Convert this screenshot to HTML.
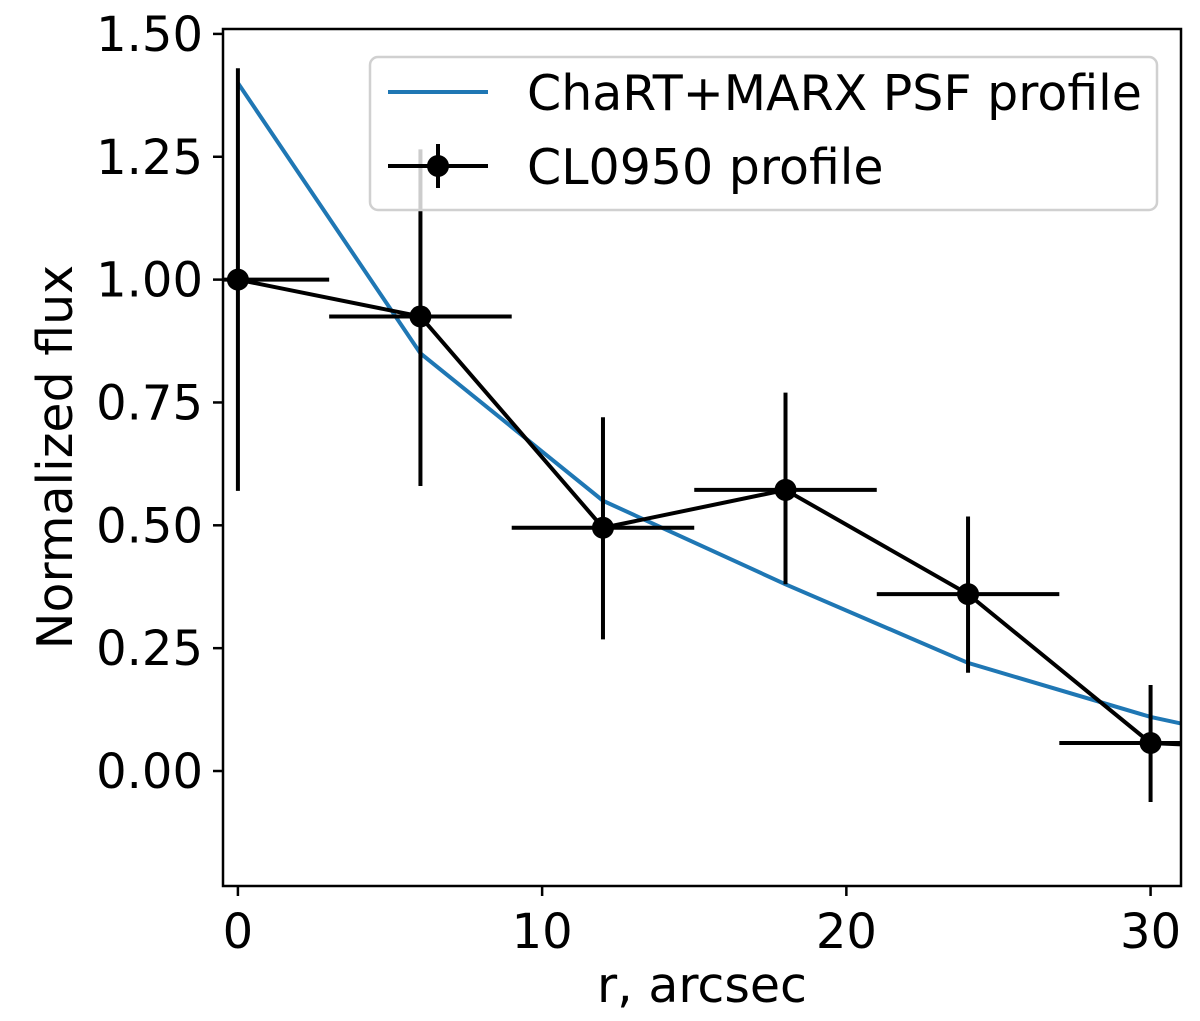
<!DOCTYPE html>
<html><head><meta charset="utf-8"><style>
body{margin:0;background:#fff;}
svg text{font-family:"DejaVu Sans","Liberation Sans",sans-serif;fill:#000;}
</style></head><body>
<svg id="chart" width="1200" height="1016" viewBox="0 0 1200 1016" xmlns="http://www.w3.org/2000/svg">
<defs><clipPath id="plotclip"><rect x="223" y="29" width="958" height="857"/></clipPath></defs>
<g id="plot" clip-path="url(#plotclip)"></g>
<g id="axes"></g>
<g>
<rect x="370" y="57" width="787" height="153" rx="8" fill="#fff" fill-opacity="0.8" stroke="#d0d0d0" stroke-width="2.5"/>
<line x1="388" y1="92" x2="488" y2="92" stroke="#1f77b4" stroke-width="4"/>
<text x="527" y="110" font-size="49">ChaRT+MARX PSF profile</text>
<line x1="388" y1="166" x2="488" y2="166" stroke="#000" stroke-width="4"/>
<line x1="438" y1="144" x2="438" y2="188" stroke="#000" stroke-width="4"/>
<circle cx="438" cy="166" r="11" fill="#000"/>
<text x="527" y="184" font-size="49">CL0950 profile</text>
</g>
<text x="702" y="1002" font-size="49" text-anchor="middle">r, arcsec</text>
<text transform="translate(72,457) rotate(-90)" font-size="49" text-anchor="middle">Normalized flux</text>
</svg>
<script>
const psfR=[0,6,12,18,24,30,36];
const psfFlux=[1.40,0.85,0.55,0.38,0.22,0.11,0.03];
const dataR=[0,6,12,18,24,30,36];
const dataFlux=[1.00,0.925,0.495,0.572,0.36,0.057,0.04];
const dataErrUp=[0.43,0.34,0.225,0.198,0.158,0.118,0.1];
const dataErrDown=[0.43,0.345,0.227,0.192,0.16,0.12,0.1];
const dataXErr=[3,3,3,3,3,3,3];
const xTicks=[0,10,20,30];
const yTicks=[0,0.25,0.5,0.75,1.0,1.25,1.5];
const yTickLabels=["0.00","0.25","0.50","0.75","1.00","1.25","1.50"];
const L=223,R=1181,T=29,B=886;
const xMin=-0.49,xMax=31.0,yMin=-0.234,yMax=1.51;
const X=v=>L+(v-xMin)/(xMax-xMin)*(R-L);
const Y=v=>B-(v-yMin)/(yMax-yMin)*(B-T);
const NS="http://www.w3.org/2000/svg";
function mk(tag,attrs,parent){const e=document.createElementNS(NS,tag);for(const k in attrs)e.setAttribute(k,attrs[k]);parent.appendChild(e);return e;}
const plot=document.getElementById('plot'),axes=document.getElementById('axes');
let p=mk('polyline',{points:psfR.map((r,i)=>X(r)+','+Y(psfFlux[i])).join(' '),fill:'none',stroke:'#1f77b4','stroke-width':4},plot);


let d=mk('polyline',{points:dataR.map((r,i)=>X(r)+','+Y(dataFlux[i])).join(' '),fill:'none',stroke:'#000','stroke-width':4},plot);


dataR.forEach((r,i)=>{
 const g=mk('g',{},plot);
 
 
 mk('line',{x1:X(r-dataXErr[i]),x2:X(r+dataXErr[i]),y1:Y(dataFlux[i]),y2:Y(dataFlux[i]),stroke:'#000','stroke-width':4},g);
 mk('line',{x1:X(r),x2:X(r),y1:Y(dataFlux[i]+dataErrUp[i]),y2:Y(dataFlux[i]-dataErrDown[i]),stroke:'#000','stroke-width':4},g);
 mk('circle',{cx:X(r),cy:Y(dataFlux[i]),r:11,fill:'#000'},g);
});
let f=mk('rect',{x:L,y:T,width:R-L,height:B-T,fill:'none',stroke:'#000','stroke-width':2.5},axes);


xTicks.forEach(v=>{
 mk('line',{x1:X(v),x2:X(v),y1:B,y2:B+10,stroke:'#000','stroke-width':2.5},axes);
 const t=mk('text',{x:X(v),y:B+62,'font-size':48,'text-anchor':'middle'},axes);t.textContent=v;
 
 
});
yTicks.forEach((v,i)=>{
 mk('line',{x1:L-10,x2:L,y1:Y(v),y2:Y(v),stroke:'#000','stroke-width':2.5},axes);
 const t=mk('text',{x:L-20,y:Y(v)+17,'font-size':48,'text-anchor':'end'},axes);t.textContent=yTickLabels[i];
 
 
});
</script>
</body></html>
